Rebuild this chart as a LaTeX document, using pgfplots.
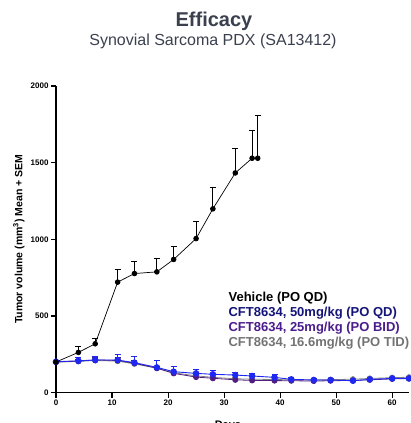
\documentclass[border=0pt]{standalone}
\usepackage{pgfplots}
\pgfplotsset{compat=1.18}
\usepackage{fontspec}
\setmainfont{Liberation Sans}
\definecolor{ttl}{RGB}{58,64,78}
\definecolor{vblue}{RGB}{30,40,240}
\definecolor{navy}{RGB}{20,20,120}
\definecolor{purp}{RGB}{80,30,130}
\definecolor{purptxt}{RGB}{75,28,140}
\definecolor{grayl}{RGB}{130,130,130}
\definecolor{graytxt}{RGB}{115,115,115}
\pgfplotstableread{
d y e
0 200 0
4 263 40
7 319 37
11 721 80
14 777 78
18 788 85
21 869 84
25 1005 109
28 1199 139
32 1433 161
35 1529 182
36 1529 277
}\vehicle
\pgfplotstableread{
d y e
0 202 0
4 208 22
7 213 26
11 213 39
14 196 43
18 165 43
21 137 33
25 126 26
28 120 23
32 115 18
35 109 17
39 100 22
42 87 14
46 83 8
49 83 7
53 78 6
56 87 5
60 93 5
63 93 5
}\blue
\pgfplotstableread{
d y e
0 200 0
4 206 14
7 214 16
11 210 18
14 192 16
18 160 14
21 126 12
25 102 10
28 94 8
32 84 7
35 80 6
39 79 6
42 78 6
46 76 5
49 78 5
53 80 5
56 84 5
60 90 5
63 92 5
}\purple
\pgfplotstableread{
d y e
0 200 0
4 204 14
7 210 16
11 206 18
14 188 16
18 160 14
21 130 12
25 110 10
28 100 8
32 91 7
35 88 6
39 86 6
42 84 6
46 83 5
49 85 5
53 88 5
56 93 5
60 98 5
63 101 5
}\grayt
\begin{document}
\begin{tikzpicture}
\begin{axis}[
  at={(56pt,30.3pt)}, anchor=south west,
  scale only axis, width=353pt, height=306.7pt,
  xmin=0, xmax=63, ymin=0, ymax=2000,
  axis x line*=bottom, axis y line*=left,
  axis line style={line width=1.3pt, -},
  xtick={0,10,...,60}, ytick={0,500,...,2000},
  tick style={line width=1.1pt, black},
  major tick length=5pt,
  tick align=outside,
  ticklabel style={font=\fontsize{8}{9}\selectfont\bfseries},
  /pgf/number format/assume math mode=true,
  /pgf/number format/set thousands separator={},
  xticklabel style={yshift=1pt},
  yticklabel style={xshift=1pt},
  xlabel={Days},
  xlabel style={at={(axis description cs:0.487,0)}, anchor=north, yshift=-25pt, font=\fontsize{11}{12}\selectfont\bfseries},
  ylabel={Tumor volume (mm\textsuperscript{3}) Mean + SEM},
  ylabel style={at={(axis description cs:0,0.5)}, anchor=center, yshift=37pt, font=\fontsize{10.5}{12}\selectfont\bfseries},
  clip=false,
  legend reversed,
  legend style={at={(axis description cs:0.487,0.33)}, anchor=north west, draw=none, fill=none,
    font=\fontsize{13}{14}\selectfont\bfseries, row sep=3pt, inner sep=0pt,
    nodes={inner sep=0.5pt}},
  legend cell align=left,
  legend image code/.code={},
  error bars/y dir=plus, error bars/y explicit,
]
\addplot[grayl, line width=0.8pt, mark=*, mark size=2.6pt, mark options={fill=grayl, draw=grayl},
  error bars/error bar style={grayl, line width=0.8pt}, error bars/error mark options={rotate=90, mark size=3pt, grayl, line width=0.8pt}]
  table[x=d, y=y, y error=e]{\grayt};
\addlegendentry{\textcolor{graytxt}{CFT8634, 16.6mg/kg (PO TID)}}
\addplot[purp, line width=0.8pt, mark=*, mark size=2.6pt, mark options={fill=purp, draw=purp},
  error bars/error bar style={purp, line width=0.8pt}, error bars/error mark options={rotate=90, mark size=3pt, purp, line width=0.8pt}]
  table[x=d, y=y, y error=e]{\purple};
\addlegendentry{\textcolor{purptxt}{CFT8634, 25mg/kg (PO BID)}}
\addplot[vblue, line width=0.9pt, mark=*, mark size=2.8pt, mark options={fill=vblue, draw=vblue},
  error bars/error bar style={vblue, line width=0.9pt}, error bars/error mark options={rotate=90, mark size=3pt, vblue, line width=0.9pt}]
  table[x=d, y=y, y error=e]{\blue};
\addlegendentry{\textcolor{navy}{CFT8634, 50mg/kg (PO QD)}}
\addplot[black, line width=0.7pt, mark=*, mark size=2.4pt, mark options={fill=black},
  error bars/error bar style={black, line width=0.8pt}, error bars/error mark options={rotate=90, mark size=3pt, black, line width=0.8pt}]
  table[x=d, y=y, y error=e]{\vehicle};
\addlegendentry{\textcolor{black}{Vehicle (PO QD)}}
\end{axis}
\node[font=\fontsize{20}{22}\selectfont\bfseries, text=ttl] at (214pt,402pt) {Efficacy};
\node[font=\fontsize{16}{18}\selectfont, text=ttl] at (213pt,382pt) {Synovial Sarcoma PDX (SA13412)};
\pgfresetboundingbox
\path[use as bounding box] (0,0) rectangle (410pt,423pt);
\end{tikzpicture}
\end{document}
